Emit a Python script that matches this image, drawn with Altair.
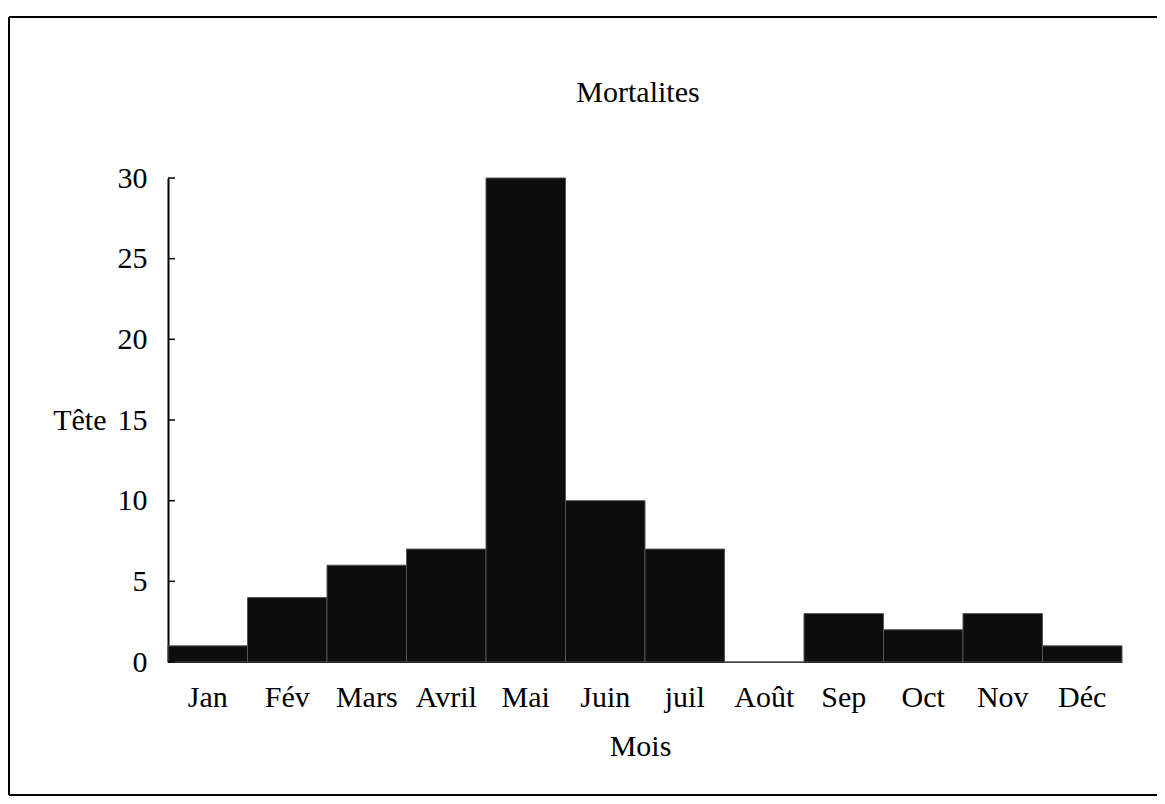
import altair as alt
import pandas as pd

months = ["Jan", "Fév", "Mars", "Avril", "Mai", "Juin", "juil", "Août", "Sep", "Oct", "Nov", "Déc"]
deaths = [1, 4, 6, 7, 30, 10, 7, 0, 3, 2, 3, 1]
y_ticks = [0, 5, 10, 15, 20, 25, 30]
title_text = ["Mortalites"]

FONT = "Liberation Serif"
FS = 30

df = pd.DataFrame({"Mois": months, "Tete": deaths})
ticks_df = pd.DataFrame({"v": y_ticks})
frame_df = pd.DataFrame({"k": [0]})
title_df = pd.DataFrame({"t": title_text})

W, H = 954, 484

bars = alt.Chart(df).mark_bar(color="#0d0d0d", stroke="#555", strokeWidth=1).encode(
    x=alt.X("Mois:N", sort=months,
            scale=alt.Scale(paddingInner=0, paddingOuter=0),
            axis=alt.Axis(title="Mois", labelAngle=0, ticks=False, labelPadding=20,
                          domain=True, domainColor="black", domainWidth=1,
                          labelFont=FONT, labelFontSize=FS, labelColor="black",
                          titleFont=FONT, titleFontSize=FS, titleFontWeight="normal",
                          titleColor="black", titleX=472, titleY=93,
                          titleBaseline="alphabetic")),
    y=alt.Y("Tete:Q", scale=alt.Scale(domain=[0, 30]),
            axis=alt.Axis(title="Tête", values=y_ticks, ticks=False, labelPadding=21,
                          grid=False, domain=True, domainColor="black", domainWidth=2,
                          labelFont=FONT, labelFontSize=FS, labelColor="black",
                          titleFont=FONT, titleFontSize=FS, titleFontWeight="normal",
                          titleColor="black", titleAngle=0, titleAlign="right",
                          titleBaseline="alphabetic", titleX=-62, titleY=251)),
)

inner_ticks = alt.Chart(ticks_df).mark_rule(color="black", strokeWidth=1.5).encode(
    y=alt.Y("v:Q", scale=alt.Scale(domain=[0, 30])),
    x=alt.value(0),
    x2=alt.value(7),
)

frame_style = dict(color="black", strokeWidth=2)
frame_top = alt.Chart(frame_df).mark_rule(**frame_style).encode(
    x=alt.value(-159), x2=alt.value(990), y=alt.value(-161))
frame_bottom = alt.Chart(frame_df).mark_rule(**frame_style).encode(
    x=alt.value(-159), x2=alt.value(990), y=alt.value(617))
frame_left = alt.Chart(frame_df).mark_rule(**frame_style).encode(
    x=alt.value(-159), y=alt.value(-161), y2=alt.value(617))

title = alt.Chart(title_df).mark_text(font=FONT, fontSize=FS, color="black",
                                      align="center", baseline="alphabetic").encode(
    text="t:N",
    x=alt.value(470),
    y=alt.value(-76),
)

chart = alt.layer(frame_top, frame_bottom, frame_left, bars, inner_ticks, title).properties(
    width=W, height=H,
    autosize=alt.AutoSizeParams(type="none"),
    padding={"left": 160, "top": 170, "right": 35, "bottom": 140},
).configure(background="white", font=FONT).configure_view(stroke=None).configure_text(font=FONT)

chart.save("out.html", embed_options={"renderer": "svg", "actions": False})
